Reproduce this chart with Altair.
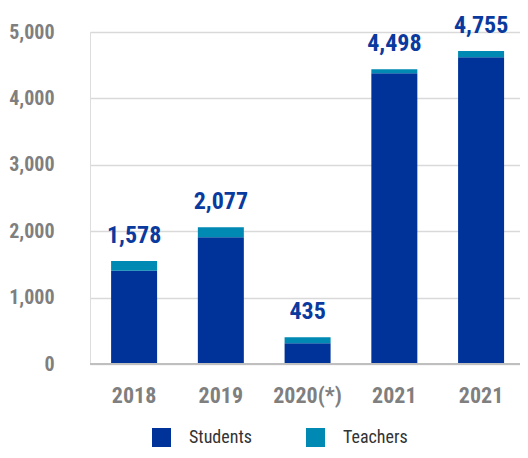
import altair as alt
import pandas as pd

categories = ["2018", "2019", "2020(*)", "2021", "2021"]
students = [1405, 1908, 312, 4378, 4619]
teachers = [146, 151, 90, 60, 95]
total_labels = ["1,578", "2,077", "435", "4,498", "4,755"]

rows = []
for i, c in enumerate(categories):
    rows.append({"idx": i, "cat": c, "group": "Students", "value": students[i], "order": 0})
    rows.append({"idx": i, "cat": c, "group": "Teachers", "value": teachers[i], "order": 1})
df = pd.DataFrame(rows)

tot = pd.DataFrame({
    "idx": list(range(len(categories))),
    "total": [s + t for s, t in zip(students, teachers)],
    "label": total_labels,
})

label_expr = "[" + ",".join("'%s'" % c for c in categories) + "][datum.value]"

FONT_N = "Liberation Sans Narrow, Arial Narrow, Roboto Condensed, Liberation Sans, sans-serif"

x = alt.X(
    "idx:O",
    title=None,
    scale=alt.Scale(paddingInner=0.47, paddingOuter=0.2135, align=0.57),
    axis=alt.Axis(
        labelExpr=label_expr,
        labelAngle=0,
        labelFont=FONT_N,
        labelFontSize=22,
        labelFontWeight="bold",
        labelColor="#7f7f7f",
        labelPadding=21,
        ticks=False,
        domain=False,
    ),
)

bars = alt.Chart(df).mark_bar(size=46).encode(
    x=x,
    y=alt.Y(
        "value:Q",
        stack="zero",
        title=None,
        scale=alt.Scale(domain=[0, 5000], nice=False),
        axis=alt.Axis(
            values=[0, 1000, 2000, 3000, 4000, 5000],
            format=",d",
            labelFont=FONT_N,
            labelFontSize=20,
            labelFontWeight="bold",
            labelColor="#7f7f7f",
            labelPadding=36,
            ticks=False,
            domain=False,
            gridColor="#d9d9d9",
            gridWidth=1.5,
        ),
    ),
    color=alt.Color(
        "group:N",
        scale=alt.Scale(domain=["Students", "Teachers"], range=["#003399", "#0089B2"]),
        legend=alt.Legend(
            title=None,
            orient="none",
            direction="horizontal",
            legendX=62,
            legendY=396,
            symbolType="square",
            symbolSize=361,
            symbolStrokeWidth=0,
            labelFont=FONT_N,
            labelFontSize=18,
            labelColor="#333333",
            labelOffset=18,
            columnPadding=54,
            padding=0,
        ),
    ),
    order=alt.Order("order:Q"),
)

baseline = alt.Chart(pd.DataFrame({"v": [0]})).mark_rule(color="#bfbfbf", strokeWidth=2).encode(
    y="v:Q"
)

labels = alt.Chart(tot).mark_text(
    baseline="alphabetic",
    dy=-18,
    font=FONT_N,
    fontSize=24,
    fontWeight="bold",
    color="#0a3a9e",
).encode(
    x=alt.X("idx:O"),
    y=alt.Y("total:Q"),
    text="label:N",
)

chart = alt.layer(bars, baseline, labels).properties(
    width=430,
    height=332,
    autosize=alt.AutoSizeParams(type="none"),
    padding={"left": 82, "top": 24, "right": 0, "bottom": 85},
).configure_view(stroke=None).configure(background="white")

chart.save("out.html", embed_options={"renderer": "svg", "actions": False})
